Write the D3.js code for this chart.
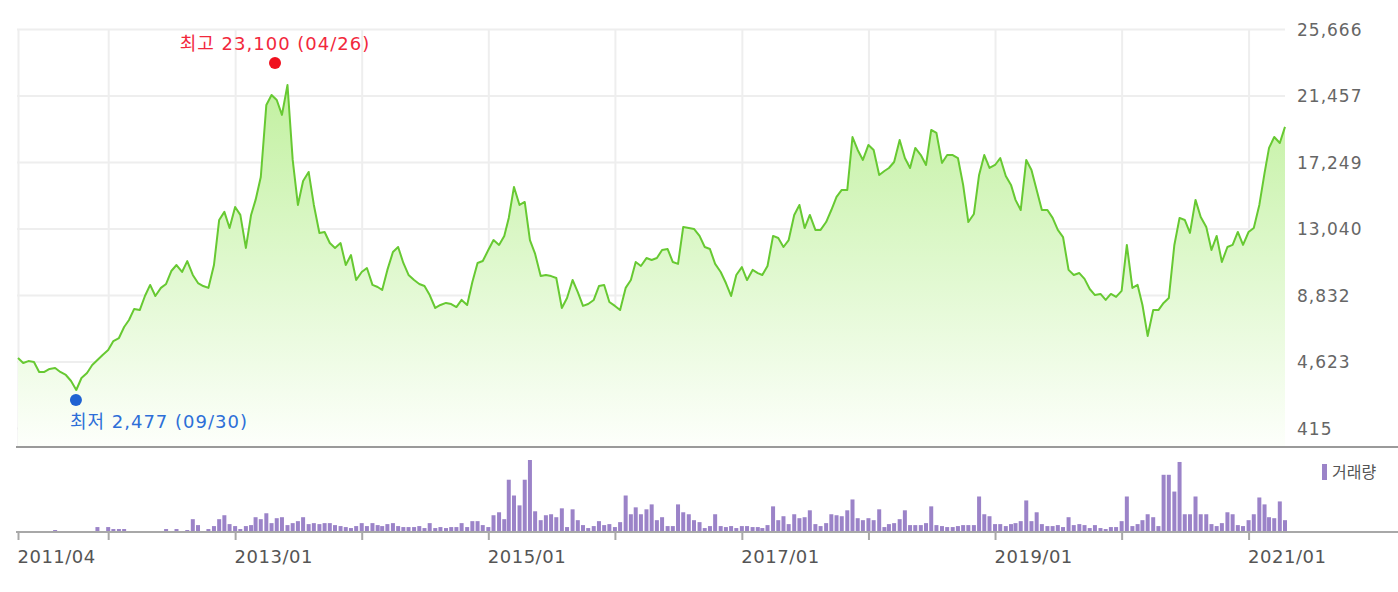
<!DOCTYPE html>
<html><head><meta charset="utf-8">
<script src="https://cdn.jsdelivr.net/npm/d3@7/dist/d3.min.js"></script>
<style>html,body{margin:0;padding:0;background:#fff;}svg{display:block;}</style>
</head><body>
<svg id="chart" width="1398" height="592"></svg>
<script>
// ---------- DATA (half-monthly samples) ----------
const dates = [
"2011-04-16","2011-05-01","2011-05-16","2011-06-01","2011-06-16","2011-07-01","2011-07-16","2011-08-01","2011-08-16","2011-09-01","2011-09-16","2011-10-01","2011-10-16","2011-11-01","2011-11-16","2011-12-01","2011-12-16",
"2012-01-01","2012-01-16","2012-02-01","2012-02-16","2012-03-01","2012-03-16","2012-04-01","2012-04-16","2012-05-01","2012-05-16","2012-06-01","2012-06-16","2012-07-01","2012-07-16","2012-08-01","2012-08-16","2012-09-01","2012-09-16","2012-10-01","2012-10-16","2012-11-01","2012-11-16","2012-12-01","2012-12-16",
"2013-01-01","2013-01-16","2013-02-01","2013-02-16","2013-03-01","2013-03-16","2013-04-01","2013-04-16","2013-05-01","2013-05-16","2013-06-01","2013-06-16","2013-07-01","2013-07-16","2013-08-01","2013-08-16","2013-09-01","2013-09-16","2013-10-01","2013-10-16","2013-11-01","2013-11-16","2013-12-01","2013-12-16",
"2014-01-01","2014-01-16","2014-02-01","2014-02-16","2014-03-01","2014-03-16","2014-04-01","2014-04-16","2014-05-01","2014-05-16","2014-06-01","2014-06-16","2014-07-01","2014-07-16","2014-08-01","2014-08-16","2014-09-01","2014-09-16","2014-10-01","2014-10-16","2014-11-01","2014-11-16","2014-12-01","2014-12-16",
"2015-01-01","2015-01-16","2015-02-01","2015-02-16","2015-03-01","2015-03-16","2015-04-01","2015-04-16","2015-05-01","2015-05-16","2015-06-01","2015-06-16","2015-07-01","2015-07-16","2015-08-01","2015-08-16","2015-09-01","2015-09-16","2015-10-01","2015-10-16","2015-11-01","2015-11-16","2015-12-01","2015-12-16",
"2016-01-01","2016-01-16","2016-02-01","2016-02-16","2016-03-01","2016-03-16","2016-04-01","2016-04-16","2016-05-01","2016-05-16","2016-06-01","2016-06-16","2016-07-01","2016-07-16","2016-08-01","2016-08-16","2016-09-01","2016-09-16","2016-10-01","2016-10-16","2016-11-01","2016-11-16","2016-12-01","2016-12-16",
"2017-01-01","2017-01-16","2017-02-01","2017-02-16","2017-03-01","2017-03-16","2017-04-01","2017-04-16","2017-05-01","2017-05-16","2017-06-01","2017-06-16","2017-07-01","2017-07-16","2017-08-01","2017-08-16","2017-09-01","2017-09-16","2017-10-01","2017-10-16","2017-11-01","2017-11-16","2017-12-01","2017-12-16",
"2018-01-01","2018-01-16","2018-02-01","2018-02-16","2018-03-01","2018-03-16","2018-04-01","2018-04-16","2018-05-01","2018-05-16","2018-06-01","2018-06-16","2018-07-01","2018-07-16","2018-08-01","2018-08-16","2018-09-01","2018-09-16","2018-10-01","2018-10-16","2018-11-01","2018-11-16","2018-12-01","2018-12-16",
"2019-01-01","2019-01-16","2019-02-01","2019-02-16","2019-03-01","2019-03-16","2019-04-01","2019-04-16","2019-05-01","2019-05-16","2019-06-01","2019-06-16","2019-07-01","2019-07-16","2019-08-01","2019-08-16","2019-09-01","2019-09-16","2019-10-01","2019-10-16","2019-11-01","2019-11-16","2019-12-01","2019-12-16",
"2020-01-01","2020-01-16","2020-02-01","2020-02-16","2020-03-01","2020-03-16","2020-04-01","2020-04-16","2020-05-01","2020-05-16","2020-06-01","2020-06-16","2020-07-01","2020-07-16","2020-08-01","2020-08-16","2020-09-01","2020-09-16","2020-10-01","2020-10-16","2020-11-01","2020-11-16","2020-12-01","2020-12-16",
"2021-01-01","2021-01-16","2021-02-01","2021-02-16","2021-03-01","2021-03-16","2021-04-01","2021-04-16"
];

const price = [
4850,4530,4650,4590,3960,3960,4150,4210,3960,3770,3390,2820,3580,3900,4400,4720,5040,
5350,5920,6110,6810,7250,7950,7880,8770,9470,8770,9280,9530,10350,10730,10290,10980,10100,9590,9400,9280,10730,13580,14090,13070,
14400,13900,11810,13900,14850,16300,20860,21490,21170,20230,22120,17380,14530,16050,16620,14530,12760,12820,12120,11810,12120,10730,11360,9780,
10290,10540,9470,9340,9150,10420,11550,11870,10860,10100,9780,9530,9400,8830,8010,8200,8330,8260,8070,8520,8200,9660,10860,10980,
11680,12310,12000,12570,13710,15670,14530,14720,12310,11430,10030,10100,10030,9910,8010,8640,9780,9020,8140,8260,8520,9400,9470,8390,
8140,7880,9280,9780,10920,10670,11170,11050,11170,11680,11740,10920,10800,13140,13070,13010,12570,11870,11740,10800,10290,9590,8770,10100,
10600,9780,10420,10220,10100,10670,12570,12440,11870,12310,13900,14530,13070,13900,12950,12950,13450,14210,15040,15480,15480,18830,18010,17380,
18330,18010,16430,16680,16870,17250,18640,17500,16870,18140,17690,17060,19280,19090,17190,17690,17690,17500,15800,13450,13960,16430,17690,16870,
17060,17500,16360,15800,14850,14210,17380,16740,15480,14210,14210,13710,12950,12500,10420,10100,10220,9850,9210,8830,8900,8520,8900,8710,
9090,12000,9280,9470,8200,6240,7880,7880,8330,8640,12000,13710,13580,12760,14850,13770,13140,11680,12570,10920,11870,12000,12820,12000,
12820,13070,14530,16550,18140,18830,18450,19470
];

const volume = [
3,2,2,2,2,2,2,20,2,2,2,2,2,2,2,50,3,
50,30,30,30,3,2,2,2,2,2,3,30,5,30,5,20,130,70,10,30,60,130,170,80,
60,30,60,70,150,130,190,90,140,150,70,90,110,150,80,90,80,90,90,70,60,50,40,60,
90,60,90,70,60,80,90,60,50,50,50,60,40,90,40,50,40,50,50,90,50,110,110,70,
50,170,200,130,530,370,270,530,730,210,120,170,180,150,240,50,230,120,70,40,60,110,70,80,
50,100,370,180,250,180,230,280,120,150,60,60,280,200,180,120,100,40,60,180,60,50,60,40,
60,60,50,50,40,70,260,120,160,80,180,140,150,220,80,60,90,180,170,160,220,330,140,120,
140,120,230,50,80,90,130,220,70,70,70,90,260,70,60,50,50,60,70,70,70,360,180,160,
80,80,60,80,90,110,320,110,200,80,60,60,70,50,150,70,80,70,40,70,40,30,50,50,
110,360,60,80,120,180,150,60,580,580,410,710,180,180,360,180,180,80,60,90,200,180,70,60,
120,180,350,280,150,140,310,120
];

const yTickValues = [415, 4623, 8832, 13040, 17249, 21457, 25666];
const xTickDates = ["2011-04-16","2012-01-01","2013-01-01","2014-01-01","2015-01-01","2016-01-01","2017-01-01","2018-01-01","2019-01-01","2020-01-01","2021-01-01"];
const xTickLabels = ["2011/04","","2013/01","","2015/01","","2017/01","","2019/01","","2021/01"];

const highDate = "2013-04-26", highValue = 23100, highLabel = "최고 23,100 (04/26)";
const lowDate = "2011-09-30", lowValue = 2477, lowLabel = "최저 2,477 (09/30)";
const legendLabel = "거래량";

// ---------- DRAW ----------
const FONT = '"DejaVu Sans","Noto Sans CJK KR",sans-serif';
const parse = d3.timeParse("%Y-%m-%d");
const rows = dates.map((d, i) => ({ date: parse(d), price: price[i], volume: volume[i] }));

const svg = d3.select("#chart");
const left = 18, right = 1285;
const priceTop = 29, priceBottom = 428, panelBottom = 446;
const volBase = 532, volTop = 460;

const x = d3.scaleTime().domain(d3.extent(rows, d => d.date)).range([left, right]);
const y = d3.scaleLinear().domain([yTickValues[0], yTickValues[yTickValues.length - 1]]).range([priceBottom, priceTop]);
const yv = d3.scaleLinear().domain([0, d3.max(volume)]).range([volBase, volTop]);

const defs = svg.append("defs");
const grad = defs.append("linearGradient").attr("id", "areaGrad")
  .attr("gradientUnits", "userSpaceOnUse").attr("x1", 0).attr("x2", 0).attr("y1", priceTop).attr("y2", panelBottom);
grad.append("stop").attr("offset", "0%").attr("stop-color", "#b9ee92");
grad.append("stop").attr("offset", "55%").attr("stop-color", "#def8cc");
grad.append("stop").attr("offset", "100%").attr("stop-color", "#fdfffb");

// horizontal grid
const gGridY = svg.append("g").attr("transform", `translate(${right},0)`)
  .call(d3.axisLeft(y).tickValues(yTickValues).tickSize(right - left + 1).tickFormat(""));
gGridY.select(".domain").remove();
gGridY.selectAll("line").attr("stroke", "#eeeeee").attr("stroke-width", 2);

// vertical grid
const xTicks = xTickDates.map(parse);
const gGridX = svg.append("g").attr("transform", `translate(0,${panelBottom})`)
  .call(d3.axisBottom(x).tickValues(xTicks).tickSize(-(panelBottom - priceTop)).tickFormat(""));
gGridX.select(".domain").remove();
gGridX.selectAll("line").attr("stroke", "#eeeeee").attr("stroke-width", 2);

// area + line
svg.append("path").datum(rows)
  .attr("d", d3.area().x(d => x(d.date)).y0(panelBottom).y1(d => y(d.price)))
  .attr("fill", "url(#areaGrad)");
svg.append("path").datum(rows)
  .attr("d", d3.line().x(d => x(d.date)).y(d => y(d.price)))
  .attr("fill", "none").attr("stroke", "#67c932").attr("stroke-width", 2).attr("stroke-linejoin", "round");

// y labels
const gY = svg.append("g").attr("transform", "translate(1297,0)")
  .call(d3.axisRight(y).tickValues(yTickValues).tickSize(0).tickPadding(0).tickFormat(d3.format(",")));
gY.select(".domain").remove();
gY.selectAll("text").attr("font-family", FONT).attr("font-size", 17).attr("fill", "#666")
  .attr("letter-spacing", "1px").attr("dy", "0.36em").attr("x", 0);

// separator line
svg.append("line").attr("x1", 16).attr("x2", 1398).attr("y1", panelBottom + 1).attr("y2", panelBottom + 1)
  .attr("stroke", "#9a9a9a").attr("stroke-width", 2);

// volume bars
svg.append("g").selectAll("rect").data(rows).join("rect")
  .attr("x", d => x(d.date) - 2).attr("width", 4)
  .attr("y", d => yv(d.volume)).attr("height", d => Math.max(0, volBase - yv(d.volume)))
  .attr("fill", "#9b83c8");

// x axis
const gX = svg.append("g").attr("transform", `translate(0,${volBase})`)
  .call(d3.axisBottom(x).tickValues(xTicks).tickSize(8).tickFormat((d, i) => xTickLabels[i]));
gX.select(".domain").remove();
gX.selectAll("line").attr("stroke", "#a8a8a8").attr("stroke-width", 2);
gX.selectAll("text").attr("font-family", FONT).attr("font-size", 18).attr("fill", "#555")
  .attr("letter-spacing", "0.5px").attr("text-anchor", "start").attr("x", -1).attr("y", 31).attr("dy", 0);
svg.append("line").attr("x1", 16).attr("x2", 1398).attr("y1", volBase).attr("y2", volBase)
  .attr("stroke", "#a8a8a8").attr("stroke-width", 2);

// legend
svg.append("rect").attr("x", 1322).attr("y", 464).attr("width", 5).attr("height", 16).attr("fill", "#9b83c8");
svg.append("text").attr("x", 1332).attr("y", 478).text(legendLabel)
  .attr("font-family", FONT).attr("font-size", 16).attr("fill", "#555");

// high / low markers
const hx = x(parse(highDate)), hy = y(highValue) - 6.5;
svg.append("circle").attr("cx", hx).attr("cy", hy).attr("r", 6).attr("fill", "#f0101e");
svg.append("text").attr("x", hx).attr("y", hy - 13).attr("text-anchor", "middle").text(highLabel)
  .attr("font-family", FONT).attr("font-size", 18).attr("letter-spacing", "1px").attr("fill", "#f2283c");

const lx = x(parse(lowDate)), ly = y(lowValue) + 4.6;
svg.append("circle").attr("cx", lx).attr("cy", ly).attr("r", 6).attr("fill", "#1f62d2");
svg.append("text").attr("x", lx - 6).attr("y", ly + 28).attr("text-anchor", "start").text(lowLabel)
  .attr("font-family", FONT).attr("font-size", 18).attr("letter-spacing", "1px").attr("fill", "#2d6fd8");
</script>
</body></html>
